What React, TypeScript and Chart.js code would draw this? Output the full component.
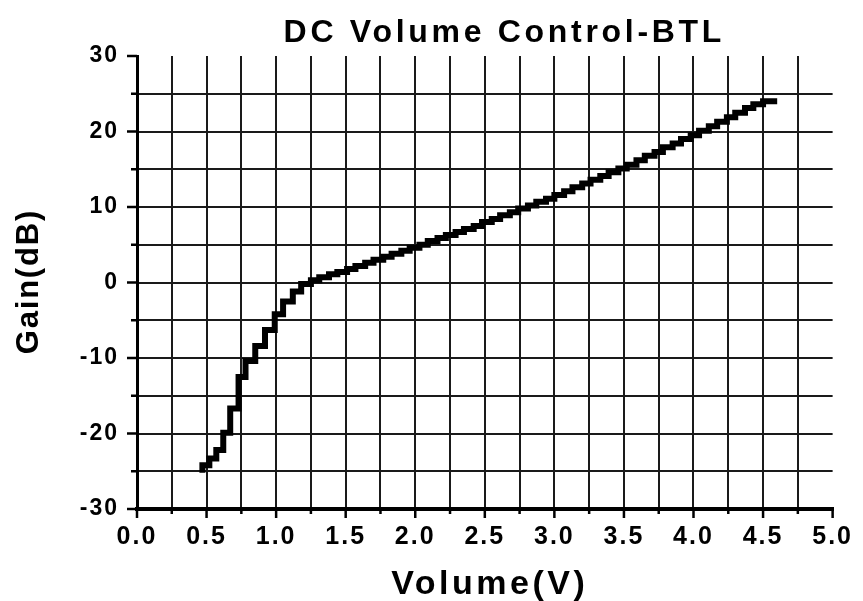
import React, { useEffect, useRef } from 'react';
import { Chart, registerables } from 'chart.js';

Chart.register(...registerables);

const TITLE = 'DC Volume Control-BTL';
const X_TITLE = 'Volume(V)';
const Y_TITLE = 'Gain(dB)';

const volume = [
  0.47, 0.52, 0.57, 0.62, 0.67, 0.73, 0.78, 0.85, 0.92, 0.99,
  1.05, 1.12, 1.18, 1.25, 1.31, 1.38, 1.44, 1.51, 1.57, 1.64,
  1.70, 1.77, 1.83, 1.90, 1.96, 2.03, 2.09, 2.16, 2.22, 2.29,
  2.35, 2.42, 2.48, 2.55, 2.61, 2.68, 2.74, 2.81, 2.87, 2.94,
  3.00, 3.07, 3.13, 3.20, 3.26, 3.33, 3.39, 3.46, 3.52, 3.59,
  3.65, 3.72, 3.78, 3.85, 3.91, 3.98, 4.04, 4.11, 4.17, 4.24,
  4.30, 4.37, 4.43, 4.50, 4.58,
];

const gainDb = [
  -24.8, -24.2, -23.3, -22.2, -19.9, -16.7, -12.5, -10.4, -8.4, -6.3,
  -4.2, -2.5, -1.2, -0.2, 0.3, 0.7, 1.1, 1.4, 1.8, 2.2,
  2.6, 3.0, 3.4, 3.8, 4.2, 4.6, 5.0, 5.5, 5.9, 6.3,
  6.7, 7.1, 7.5, 8.0, 8.4, 8.9, 9.3, 9.8, 10.2, 10.7,
  11.1, 11.6, 12.1, 12.6, 13.1, 13.6, 14.1, 14.6, 15.1, 15.6,
  16.2, 16.8, 17.3, 17.9, 18.4, 19.0, 19.5, 20.1, 20.7, 21.3,
  21.9, 22.5, 23.1, 23.6, 24.0,
];

const xTickLabels = ['0.0', '0.5', '1.0', '1.5', '2.0', '2.5', '3.0', '3.5', '4.0', '4.5', '5.0'];
const yTickLabels = ['-30', '-20', '-10', '0', '10', '20', '30'];

const X_MIN = 0;
const X_MAX = 5;
const X_STEP = 0.25;
const Y_MIN = -30;
const Y_MAX = 30;
const Y_STEP = 5;

const FONT = '"Liberation Sans", Arial, Helvetica, sans-serif';

function labelFor(list: string[], v: number): string {
  const hit = list.find((l) => Math.abs(parseFloat(l) - v) < 1e-6);
  return hit === undefined ? '' : hit;
}

const decor = {
  id: 'decor',
  beforeDraw(chart: any) {
    (chart.ctx as any).letterSpacing = '2px';
  },
  afterDraw(chart: any) {
    const ctx = chart.ctx as CanvasRenderingContext2D & { letterSpacing: string };
    const xs = chart.scales.x;
    const ys = chart.scales.y;
    ctx.save();
    ctx.strokeStyle = '#000';
    ctx.lineWidth = 2.5;
    const axisX = xs.left;
    const axisY = ys.bottom;
    ys.ticks.forEach((t: any) => {
      const p = ys.getPixelForValue(t.value);
      const len = t.label ? 10 : 6;
      ctx.beginPath();
      ctx.moveTo(axisX, p);
      ctx.lineTo(axisX - len, p);
      ctx.stroke();
    });
    xs.ticks.forEach((t: any) => {
      const p = xs.getPixelForValue(t.value);
      const len = t.label ? 9 : 5;
      ctx.beginPath();
      ctx.moveTo(p, axisY);
      ctx.lineTo(p, axisY + len);
      ctx.stroke();
    });

    ctx.fillStyle = '#000';
    ctx.textBaseline = 'alphabetic';
    ctx.textAlign = 'center';

    // main title
    ctx.letterSpacing = '3.7px';
    ctx.font = `bold 32px ${FONT}`;
    ctx.fillText(TITLE, 502.5 + 1.85, 42);

    // x title
    ctx.letterSpacing = '3.5px';
    ctx.font = `bold 34px ${FONT}`;
    ctx.fillText(X_TITLE, 488 + 1.75, 594);

    // y title
    ctx.save();
    ctx.translate(38, (ys.top + ys.bottom) / 2);
    ctx.rotate(-Math.PI / 2);
    ctx.letterSpacing = '1.8px';
    ctx.font = `bold 31px ${FONT}`;
    ctx.fillText(Y_TITLE, 0.9, 0);
    ctx.restore();

    ctx.restore();
  },
};

export default function App() {
  const ref = useRef<HTMLCanvasElement | null>(null);

  useEffect(() => {
    if (!ref.current) return;
    const points = volume.map((v, i) => ({ x: v, y: gainDb[i] }));
    const gridColor = '#1a1a1a';
    const chart = new Chart(ref.current, {
      type: 'line',
      data: {
        datasets: [
          {
            data: points,
            stepped: 'after',
            borderColor: '#000',
            borderWidth: 6,
            borderCapStyle: 'square',
            borderJoinStyle: 'miter',
            pointRadius: 0,
            fill: false,
          } as any,
        ],
      },
      options: {
        animation: false,
        responsive: false,
        maintainAspectRatio: false,
        layout: { padding: { top: 56, right: 22, left: 0, bottom: 0 } },
        plugins: {
          legend: { display: false },
          title: { display: false },
          tooltip: { enabled: false },
        },
        scales: {
          x: {
            type: 'linear',
            min: X_MIN,
            max: X_MAX,
            afterFit: (s: any) => {
              s.height = 92;
            },
            ticks: {
              stepSize: X_STEP,
              autoSkip: false,
              maxRotation: 0,
              minRotation: 0,
              padding: 13,
              color: '#000',
              font: { family: FONT, size: 25, weight: 'bold' },
              callback: (v: any) => labelFor(xTickLabels, Number(v)),
            },
            grid: {
              drawTicks: false,
              lineWidth: 2,
              color: (c: any) =>
                c.tick && c.tick.value >= X_MAX - 1e-9 ? 'rgba(0,0,0,0)' : gridColor,
            },
            border: { display: true, width: 4, color: '#000' },
          },
          y: {
            type: 'linear',
            min: Y_MIN,
            max: Y_MAX,
            afterFit: (s: any) => {
              s.width = 137;
            },
            ticks: {
              stepSize: Y_STEP,
              autoSkip: false,
              padding: 18,
              color: '#000',
              font: { family: FONT, size: 23, weight: 'bold' },
              callback: (v: any) => labelFor(yTickLabels, Number(v)),
            },
            grid: {
              drawTicks: false,
              lineWidth: 2,
              color: (c: any) =>
                c.tick && c.tick.value >= Y_MAX - 1e-9 ? 'rgba(0,0,0,0)' : gridColor,
            },
            border: { display: true, width: 3, color: '#000' },
          },
        },
      },
      plugins: [decor],
    } as any);
    return () => chart.destroy();
  }, []);

  return (
    <div style={{ position: 'fixed', left: 0, top: 0, width: 863, height: 601, background: '#fff' }}>
      <canvas ref={ref} width={863} height={601} style={{ display: 'block', width: 863, height: 601 }} />
    </div>
  );
}
